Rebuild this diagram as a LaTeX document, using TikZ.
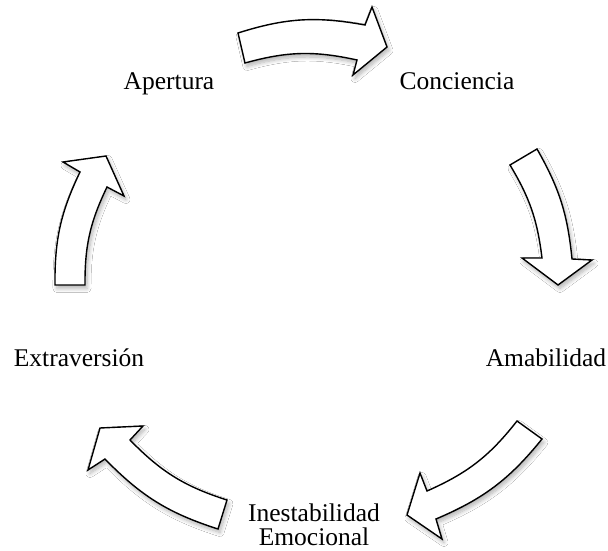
\documentclass[tikz,border=0pt]{standalone}
\usepackage{fontspec}
\setmainfont{Liberation Serif}
\usetikzlibrary{shadows.blur}
\begin{document}
\begin{tikzpicture}[x=1pt,y=-1pt,
  lbl/.style={inner sep=0pt, anchor=base, font=\fontsize{25.5}{28}\selectfont},
  blockarrow/.style={draw=black, line width=1.4pt, fill=white, line join=miter,
    blur shadow={shadow xshift=2pt, shadow yshift=-3.5pt, shadow blur radius=4pt, shadow blur steps=8, shadow opacity=30}}]
\useasboundingbox[fill=white] (0,0) rectangle (608,551);
% labels
\node[lbl] (apertura) at (169,89) {Apertura};
\node[lbl] (conciencia) at (457,89) {Conciencia};
\node[lbl] (amabilidad) at (546,366) {Amabilidad};
\node[lbl] (extraversion) at (79,366) {Extraversión};
\node[lbl] (inestabilidad) at (314,521) {Inestabilidad};
\node[lbl] (emocional) at (314,545) {Emocional};
% top arrow
\draw[blockarrow] (238,33) to[bend left=14] (365,25) -- (372,7) -- (387,47)
  -- (353,75) -- (357,60) to[bend right=14] (245,63) -- cycle;
% right arrow
\draw[blockarrow] (537,149) to[bend left=12] (572,259) -- (592,260) -- (558,285)
  -- (522,258) -- (542,258) to[bend right=12] (510,165) -- cycle;
% bottom-right arrow
\draw[blockarrow] (542,439) to[bend left=14] (436,519) -- (442,539) -- (407,515)
  -- (420,473) -- (427,491) to[bend right=14] (517,421) -- cycle;
% bottom-left arrow
\draw[blockarrow] (218,529) to[bend left=14] (105,459) -- (88,470) -- (100,428)
  -- (143,426) -- (130,440) to[bend right=14] (227,500) -- cycle;
% left arrow
\draw[blockarrow] (55,285) to[bend left=13] (80,172) -- (63,162) -- (106,156)
  -- (124,196) -- (107,187) to[bend right=13] (85,285) -- cycle;
\end{tikzpicture}
\end{document}
